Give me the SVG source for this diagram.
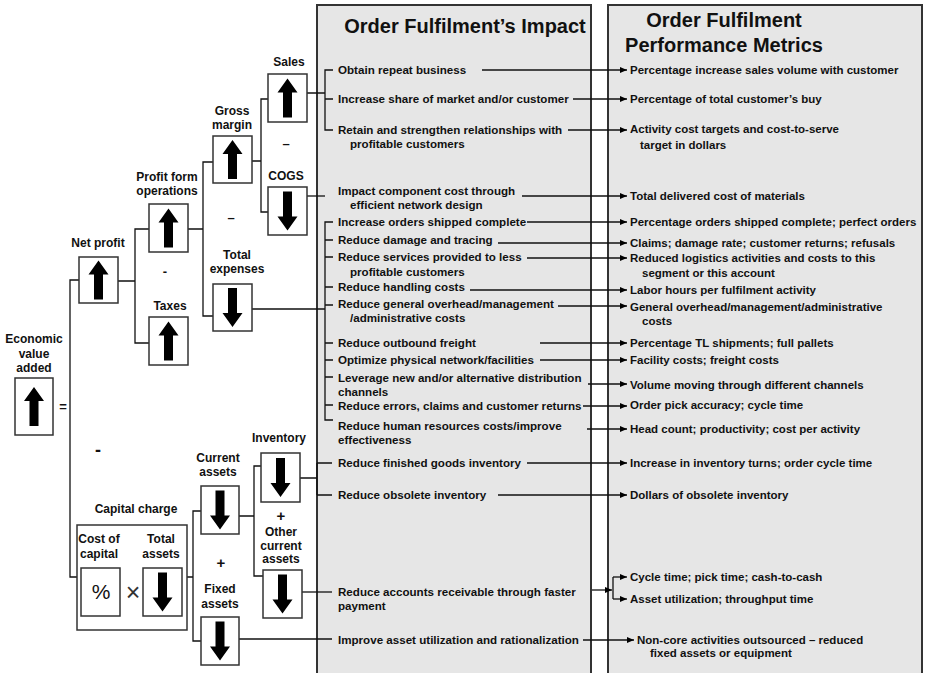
<svg xmlns="http://www.w3.org/2000/svg" width="925" height="673" viewBox="0 0 925 673">
  <defs>
    <style>
      .panel{fill:#e6e6e6;stroke:#333;stroke-width:2}
      .box{fill:#fff;stroke:#333;stroke-width:1.5}
      .ln{fill:none;stroke:#111;stroke-width:1.3}
      .arr{fill:none;stroke:#111;stroke-width:1.3;marker-end:url(#ah)}
      text{font-family:"Liberation Sans",Arial,Helvetica,sans-serif;fill:#111}
      .lbl{font-weight:bold;font-size:12px;text-anchor:middle}
      .t{font-weight:bold;font-size:11.6px}
      .m{font-weight:bold;font-size:11.5px}
      .title{font-weight:bold;font-size:20px;text-anchor:middle}
      .op{font-weight:bold;font-size:13px;text-anchor:middle}
    </style>
    <path id="up" d="M0,-19.5 L10,-5.5 L4.5,-5.5 L4.5,19.5 L-4.5,19.5 L-4.5,-5.5 L-10,-5.5 Z" fill="#000"/>
    <path id="down" d="M0,19.5 L10,5.5 L4.5,5.5 L4.5,-19.5 L-4.5,-19.5 L-4.5,5.5 L-10,5.5 Z" fill="#000"/>
    <marker id="ah" markerWidth="8" markerHeight="8" refX="7" refY="3" orient="auto" markerUnits="userSpaceOnUse">
      <path d="M0,0 L7,3 L0,6 Z" fill="#000"/>
    </marker>
  </defs>

  <!-- column panels -->
  <g id="panel-impact">
    <rect class="panel" x="317" y="5" width="274" height="680"/>
    <text class="title" x="465" y="33">Order Fulfilment’s Impact</text>
  </g>
  <g id="panel-metrics">
    <rect class="panel" x="608" y="5" width="314" height="680"/>
    <text class="title" x="724" y="27">Order Fulfilment</text>
    <text class="title" x="724" y="52">Performance Metrics</text>
  </g>

  <!-- connectors -->
  <g id="connectors">
    <!-- value tree -->
    <path class="ln" d="M79,280 H70 V577 H77"/>
    <path class="ln" d="M118,281 H135 M149,229 H135 V343 H149"/>
    <path class="ln" d="M188,229 H203 M213,162 H203 V316 H213"/>
    <path class="ln" d="M252,161 H261 M268,99 H261 V212 H268"/>
    <path class="ln" d="M187,577 H193 M201,511 H193 V641 H201"/>
    <path class="ln" d="M239,516 H254 M261,466 H254 V576 H263"/>
    <!-- into the impact column -->
    <path class="ln" d="M307,93 H325 M333,70 H325 V130 H333 M325,99 H333"/>
    <path class="ln" d="M307,196 H325"/>
    <path class="ln" d="M252,309 H325 M333,222 H325 V420 H333 M325,240 H333 M325,257 H333 M325,287 H333 M325,305 H333 M325,343 H333 M325,360 H333 M325,377 H333 M325,405 H333"/>
    <path class="ln" d="M300,478 H317 M317,463 H332 M317,463 V495 M317,495 H332"/>
    <path class="ln" d="M302,592 H332"/>
    <path class="ln" d="M239,639 H332"/>
    <!-- impact to metrics -->
    <path class="arr" d="M482,70 H627"/>
    <path class="arr" d="M573,99 H627"/>
    <path class="arr" d="M568,130 H627"/>
    <path class="arr" d="M522,196 H627"/>
    <path class="arr" d="M527,222 H627"/>
    <path class="arr" d="M498,243 H627"/>
    <path class="arr" d="M527,258 H627"/>
    <path class="arr" d="M470,290 H627"/>
    <path class="arr" d="M558,306 H627"/>
    <path class="arr" d="M540,343 H627"/>
    <path class="arr" d="M540,360 H627"/>
    <path class="arr" d="M588,384 H627"/>
    <path class="arr" d="M583,406 H627"/>
    <path class="arr" d="M587,429 H627"/>
    <path class="arr" d="M527,463 H627"/>
    <path class="arr" d="M498,495 H627"/>
    <path class="arr" d="M592,590 H612"/>
    <path class="ln" d="M613,577 V599"/>
    <path class="arr" d="M613,577 H627"/>
    <path class="arr" d="M613,599 H627"/>
    <path class="arr" d="M583,640 H634"/>
  </g>

  <!-- value tree nodes -->
  <g id="n-eva">
    <text class="lbl" x="34" y="343">Economic</text>
    <text class="lbl" x="34" y="358">value</text>
    <text class="lbl" x="34" y="372">added</text>
    <rect class="box" x="15" y="378" width="38" height="57"/>
    <use href="#up" x="34" y="406.5"/>
    <text class="op" x="63" y="411">=</text>
  </g>
  <g id="n-netprofit">
    <text class="lbl" x="98" y="247">Net profit</text>
    <rect class="box" x="79" y="257" width="39" height="46"/>
    <use href="#up" x="98.5" y="280"/>
  </g>
  <g id="n-profitops">
    <text class="lbl" x="167" y="181">Profit form</text>
    <text class="lbl" x="167" y="195">operations</text>
    <rect class="box" x="149" y="204" width="39" height="48"/>
    <use href="#up" x="168.5" y="228"/>
    <text class="op" x="165" y="276">-</text>
  </g>
  <g id="n-taxes">
    <text class="lbl" x="170" y="310">Taxes</text>
    <rect class="box" x="149" y="317" width="39" height="48"/>
    <use href="#up" x="168.5" y="341"/>
  </g>
  <g id="n-gross">
    <text class="lbl" x="232" y="115">Gross</text>
    <text class="lbl" x="232" y="129">margin</text>
    <rect class="box" x="213" y="136" width="39" height="47"/>
    <use href="#up" x="232.5" y="159.5"/>
    <text class="op" x="231" y="222">–</text>
  </g>
  <g id="n-totalexp">
    <text class="lbl" x="237" y="259">Total</text>
    <text class="lbl" x="237" y="273">expenses</text>
    <rect class="box" x="213" y="284" width="39" height="47"/>
    <use href="#down" x="232.5" y="307.5"/>
  </g>
  <g id="n-sales">
    <text class="lbl" x="289" y="66">Sales</text>
    <rect class="box" x="268" y="74" width="39" height="48"/>
    <use href="#up" x="287.5" y="98"/>
    <text class="op" x="286" y="148">–</text>
  </g>
  <g id="n-cogs">
    <text class="lbl" x="286" y="180">COGS</text>
    <rect class="box" x="268" y="187" width="39" height="48"/>
    <use href="#down" x="287.5" y="211"/>
  </g>
  <g id="n-capcharge">
    <text class="op" x="98" y="456" style="font-size:18px">-</text>
    <text class="lbl" x="136" y="513">Capital charge</text>
    <rect class="box" x="77" y="525" width="110" height="105"/>
    <text class="lbl" x="99" y="543">Cost of</text>
    <text class="lbl" x="99" y="558">capital</text>
    <text class="lbl" x="161" y="543">Total</text>
    <text class="lbl" x="161" y="558">assets</text>
    <rect class="box" x="81" y="568" width="39" height="48"/>
    <text x="101" y="599" style="font-size:21px;text-anchor:middle">%</text>
    <text x="133" y="601" style="font-size:25px;text-anchor:middle;fill:#333">×</text>
    <rect class="box" x="143" y="568" width="39" height="48"/>
    <use href="#down" x="162.5" y="592"/>
  </g>
  <g id="n-current">
    <text class="lbl" x="218" y="462">Current</text>
    <text class="lbl" x="218" y="476">assets</text>
    <rect class="box" x="201" y="486" width="38" height="48"/>
    <use href="#down" x="220" y="510"/>
    <text class="op" x="221" y="568" style="font-size:15px">+</text>
  </g>
  <g id="n-fixed">
    <text class="lbl" x="220" y="593">Fixed</text>
    <text class="lbl" x="220" y="608">assets</text>
    <rect class="box" x="201" y="617" width="38" height="48"/>
    <use href="#down" x="220" y="641"/>
  </g>
  <g id="n-inventory">
    <text class="lbl" x="279" y="442">Inventory</text>
    <rect class="box" x="261" y="453" width="39" height="49"/>
    <use href="#down" x="280.5" y="477.5"/>
    <text class="op" x="281" y="521" style="font-size:15px">+</text>
  </g>
  <g id="n-othercurrent">
    <text class="lbl" x="281" y="536">Other</text>
    <text class="lbl" x="281" y="550">current</text>
    <text class="lbl" x="281" y="563">assets</text>
    <rect class="box" x="263" y="570" width="39" height="48"/>
    <use href="#down" x="282.5" y="594"/>
  </g>

  <!-- impact items -->
  <g id="impact-items">
    <text class="t" x="338" y="74">Obtain repeat business</text>
    <text class="t" x="338" y="103">Increase share of market and/or customer</text>
    <text class="t" x="338" y="134">Retain and strengthen relationships with</text>
    <text class="t" x="350" y="148">profitable customers</text>
    <text class="t" x="338" y="195">Impact component cost through</text>
    <text class="t" x="350" y="209">efficient network design</text>
    <text class="t" x="338" y="226">Increase orders shipped complete</text>
    <text class="t" x="338" y="244">Reduce damage and tracing</text>
    <text class="t" x="338" y="261">Reduce services provided to less</text>
    <text class="t" x="350" y="276">profitable customers</text>
    <text class="t" x="338" y="291">Reduce handling costs</text>
    <text class="t" x="338" y="308">Reduce general overhead/management</text>
    <text class="t" x="350" y="322">/administrative costs</text>
    <text class="t" x="338" y="347">Reduce outbound freight</text>
    <text class="t" x="338" y="364">Optimize physical network/facilities</text>
    <text class="t" x="338" y="382">Leverage new and/or alternative distribution</text>
    <text class="t" x="338" y="396">channels</text>
    <text class="t" x="338" y="410">Reduce errors, claims and customer returns</text>
    <text class="t" x="338" y="430">Reduce human resources costs/improve</text>
    <text class="t" x="338" y="444">effectiveness</text>
    <text class="t" x="338" y="467">Reduce finished goods inventory</text>
    <text class="t" x="338" y="499">Reduce obsolete inventory</text>
    <text class="t" x="338" y="596">Reduce accounts receivable through faster</text>
    <text class="t" x="338" y="610">payment</text>
    <text class="t" x="338" y="644">Improve asset utilization and rationalization</text>
  </g>

  <!-- metric items -->
  <g id="metric-items">
    <text class="m" x="630" y="74">Percentage increase sales volume with customer</text>
    <text class="m" x="630" y="103">Percentage of total customer’s buy</text>
    <text class="m" x="630" y="133">Activity cost targets and cost-to-serve</text>
    <text class="m" x="640" y="149">target in dollars</text>
    <text class="m" x="630" y="200">Total delivered cost of materials</text>
    <text class="m" x="630" y="226">Percentage orders shipped complete; perfect orders</text>
    <text class="m" x="630" y="247">Claims; damage rate; customer returns; refusals</text>
    <text class="m" x="630" y="262">Reduced logistics activities and costs to this</text>
    <text class="m" x="642" y="277">segment or this account</text>
    <text class="m" x="630" y="294">Labor hours per fulfilment activity</text>
    <text class="m" x="630" y="311">General overhead/management/administrative</text>
    <text class="m" x="642" y="325">costs</text>
    <text class="m" x="630" y="347">Percentage TL shipments; full pallets</text>
    <text class="m" x="630" y="364">Facility costs; freight costs</text>
    <text class="m" x="630" y="389">Volume moving through different channels</text>
    <text class="m" x="630" y="409">Order pick accuracy; cycle time</text>
    <text class="m" x="630" y="433">Head count; productivity; cost per activity</text>
    <text class="m" x="630" y="467">Increase in inventory turns; order cycle time</text>
    <text class="m" x="630" y="499">Dollars of obsolete inventory</text>
    <text class="m" x="630" y="581">Cycle time; pick time; cash-to-cash</text>
    <text class="m" x="630" y="603">Asset utilization; throughput time</text>
    <text class="m" x="637" y="644">Non-core activities outsourced – reduced</text>
    <text class="m" x="650" y="657">fixed assets or equipment</text>
  </g>
</svg>
